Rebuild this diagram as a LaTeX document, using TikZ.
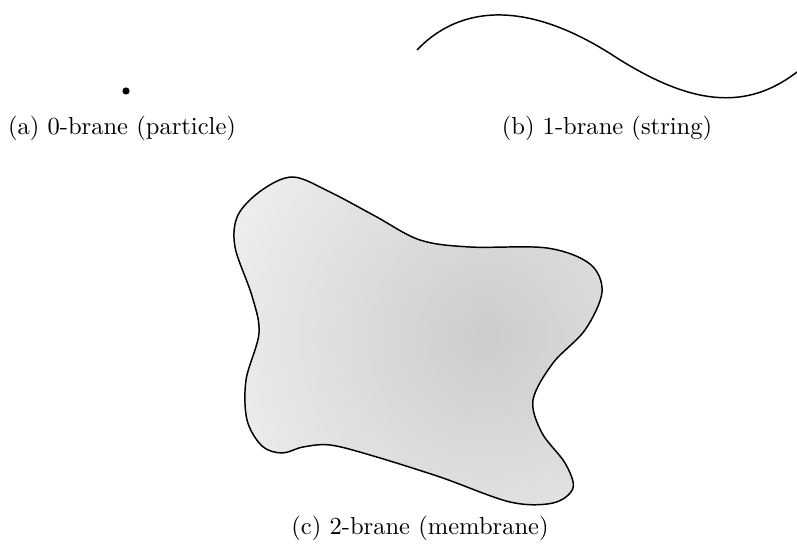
\documentclass[tikz,border=0pt]{standalone}
\usepackage{tikz}

\newcommand{\membranepath}{plot[smooth cycle, tension=0.55] coordinates {
    (293,177) (330,192) (375,216) (420,240) (470,247) (547,248)
    (590,264) (602,292) (585,330) (553,363) (533,400) (542,433)
    (565,463) (573,488) (553,503) (510,502) (440,477) (370,455)
    (330,445) (303,447) (282,453) (262,446) (247,420) (246,380)
    (259,333) (252,296) (235,247) (238,215) (262,190)}}

\begin{document}
\begin{tikzpicture}[x=0.4072pt, y=-0.4072pt]
\useasboundingbox (0,0) rectangle (797,552);

% 0-brane: a point
\fill (126,91) circle (3.6);
\node (labA) at (122,128) {(a) 0-brane (particle)};

% 1-brane: an open string
\draw[semithick]
  (417,50) .. controls (455,10) and (520,-6) .. (617,58)
  .. controls (690,104) and (745,112) .. (797,72);
\node (labB) at (607,128) {(b) 1-brane (string)};

% 2-brane: a membrane
\fill[gray!6] \membranepath;
\begin{scope}
  \clip \membranepath;
  \shade[inner color=gray!40, outer color=gray!6] (487,337) circle (360);
\end{scope}
\draw[semithick] \membranepath;
\node (labC) at (420,528) {(c) 2-brane (membrane)};
\end{tikzpicture}
\end{document}
